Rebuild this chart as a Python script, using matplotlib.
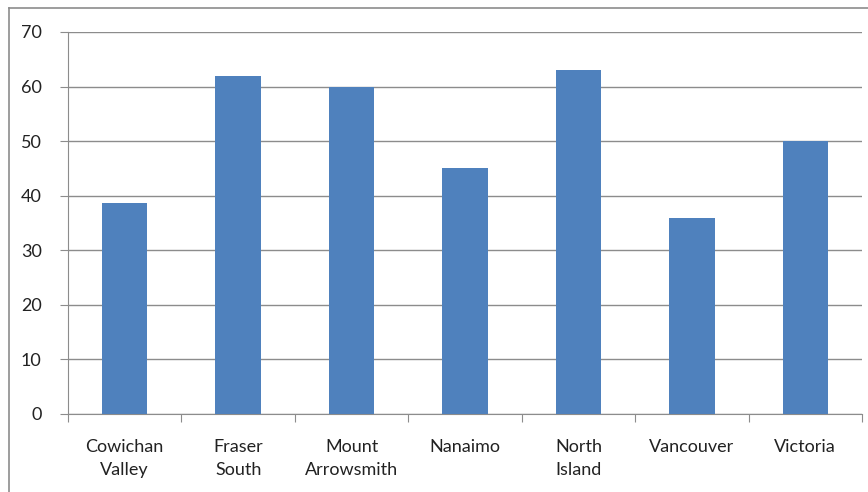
import matplotlib.pyplot as plt
from matplotlib.lines import Line2D
import numpy as np

regions = ['Cowichan\nValley', 'Fraser\nSouth', 'Mount\nArrowsmith', 'Nanaimo',
           'North\nIsland', 'Vancouver', 'Victoria']
values = [38.7, 62, 60, 45, 63, 36, 50]
yticks = [0, 10, 20, 30, 40, 50, 60, 70]

plt.rcParams['font.family'] = ['Lato', 'DejaVu Sans']

fig = plt.figure(figsize=(8.68, 4.92), dpi=100)
ax = fig.add_axes([68/868, 1-414/492, (862-68)/868, (414-32)/492])

x = np.arange(len(regions))
ax.bar(x, values, width=0.4, color='#4f81bd', zorder=3)

ax.set_xlim(-0.5, len(regions)-0.5)
ax.set_ylim(0, 70)
ax.set_yticks(yticks)
ax.yaxis.grid(True, color='#8c8c8c', linewidth=1)
ax.set_axisbelow(True)

# x ticks sit between categories, labels centred under bars
ax.set_xticks(np.arange(-0.5, len(regions)), minor=False)
ax.set_xticklabels([])
ax.set_xticks(x, minor=True)
ax.set_xticklabels(regions, minor=True, fontsize=13, color='#222222', linespacing=1.55, va='top')
ax.tick_params(axis='x', which='minor', length=0, pad=18)
ax.tick_params(axis='x', which='major', length=6, color='#8c8c8c', direction='out')
ax.tick_params(axis='y', length=6, color='#8c8c8c', labelsize=13, labelcolor='#222222', pad=13)

for s in ['top', 'right']:
    ax.spines[s].set_visible(False)
for s in ['left', 'bottom']:
    ax.spines[s].set_color('#8c8c8c')

# chart area frame
fig.add_artist(Line2D([9/868, 9/868], [0, 1-8/492], color='#8c8c8c', linewidth=1.2))
fig.add_artist(Line2D([9/868, 1], [1-8/492, 1-8/492], color='#8c8c8c', linewidth=1.2))

fig.savefig('out.png', dpi=100)
